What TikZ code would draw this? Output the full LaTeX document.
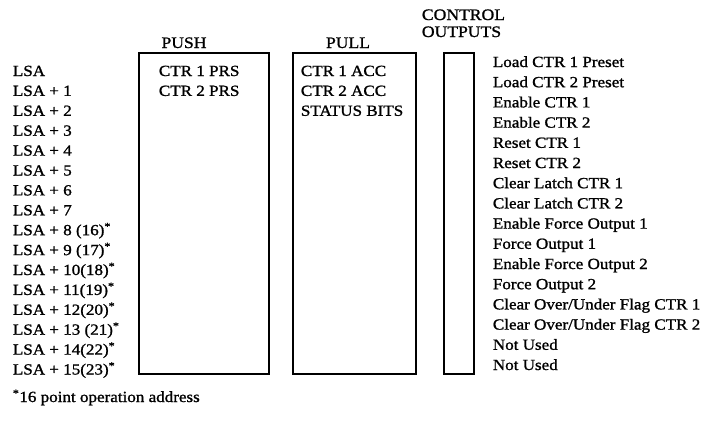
\documentclass[tikz,border=0pt]{standalone}
\usepackage{fontspec}
\setmainfont{Liberation Serif}[FakeStretch=1.1, FakeBold=1.2]
\usetikzlibrary{positioning}
\newcommand{\st}{\textsuperscript{*}}
\tikzset{
  every picture/.style={line width=1.8pt, x=1pt, y=-1pt},
  regbox/.style={draw, anchor=north west, inner sep=0pt, minimum height=321pt},
  lbl/.style={anchor=base west, inner sep=0pt, font=\fontsize{15.5}{15.5}\selectfont},
  head/.style={anchor=base, inner sep=0pt, font=\fontsize{16}{16}\selectfont},
}
\begin{document}
\begin{tikzpicture}
  \useasboundingbox (0,0) rectangle (728,424);
  % register boxes
  \node[regbox, minimum width=130pt] (push) at (138,52) {};
  \node[regbox, minimum width=123pt] (pull) at (292,52) {};
  \node[regbox, minimum width=30pt] (ctl) at (443,52) {};
  \node[head] (pushhd) at (184,48) {PUSH};
  \node[head] (pullhd) at (348,48) {PULL};
  \node[lbl, font=\fontsize{16}{16}\selectfont] (ctlhd) at (421,20) {CONTROL};
  \node[lbl, font=\fontsize{16}{16}\selectfont] (outhd) at (421,37) {OUTPUTS};
  % address column
  \foreach \i/\t in {0/LSA, 1/LSA + 1, 2/LSA + 2, 3/LSA + 3, 4/LSA + 4, 5/LSA + 5,
      6/LSA + 6, 7/LSA + 7, 8/LSA + 8 (16)\st, 9/LSA + 9 (17)\st, 10/LSA + 10(18)\st,
      11/LSA + 11(19)\st, 12/LSA + 12(20)\st, 13/LSA + 13 (21)\st, 14/LSA + 14(22)\st,
      15/LSA + 15(23)\st}
    \node[lbl] (lsa\i) at (12,76+19.9*\i) {\t};
  % box contents
  \node[lbl] (prs1) at (158,76) {CTR 1 PRS};
  \node[lbl] (prs2) at (158,95.9) {CTR 2 PRS};
  \node[lbl] (acc1) at (300,76) {CTR 1 ACC};
  \node[lbl] (acc2) at (300,95.9) {CTR 2 ACC};
  \node[lbl] (stat) at (300,115.8) {STATUS BITS};
  % control outputs
  \foreach \i/\t in {0/Load CTR 1 Preset, 1/Load CTR 2 Preset, 2/Enable CTR 1, 3/Enable CTR 2,
      4/Reset CTR 1, 5/Reset CTR 2, 6/Clear Latch CTR 1, 7/Clear Latch CTR 2,
      8/Enable Force Output 1, 9/Force Output 1, 10/Enable Force Output 2, 11/Force Output 2,
      12/{Clear Over/Under Flag CTR 1}, 13/{Clear Over/Under Flag CTR 2}, 14/Not Used, 15/Not Used}
    \node[lbl] (out\i) at (492,67+20.2*\i) {\t};
  \node[lbl] (note) at (12,402) {\st16 point operation address};
\end{tikzpicture}
\end{document}
